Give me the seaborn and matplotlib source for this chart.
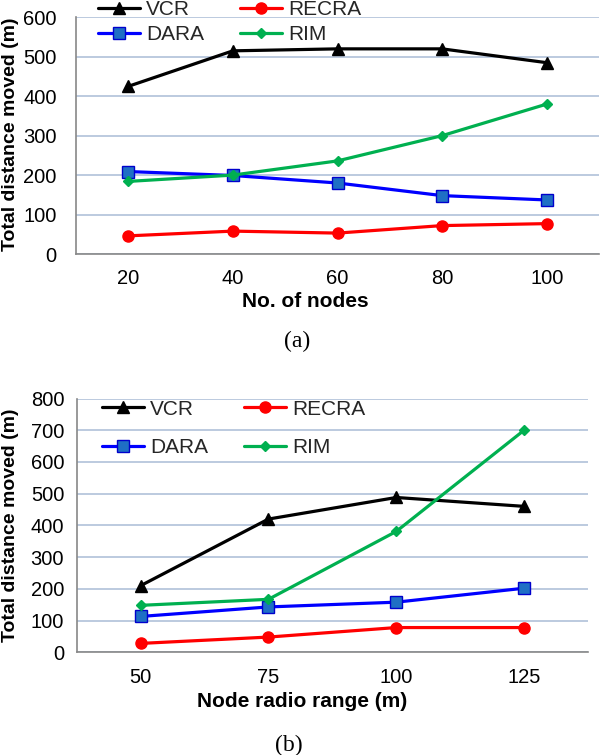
import matplotlib
matplotlib.use("Agg")
import matplotlib.pyplot as plt
import seaborn as sns
import pandas as pd

# ---- data ----
series = ["VCR", "RECRA", "DARA", "RIM"]
nodes = [20, 40, 60, 80, 100]
a_vcr = [425, 515, 520, 520, 485]
a_recra = [46, 58, 53, 72, 77]
a_dara = [209, 199, 180, 148, 137]
a_rim = [184, 200, 236, 300, 380]

ranges = [50, 75, 100, 125]
b_vcr = [210, 420, 488, 460]
b_recra = [28, 48, 78, 78]
b_dara = [113, 143, 158, 202]
b_rim = [148, 167, 381, 700]

a_yticks = [0, 100, 200, 300, 400, 500, 600]
b_yticks = [0, 100, 200, 300, 400, 500, 600, 700, 800]

sns.set_theme(style="white")
plt.rcParams['font.family'] = ['Liberation Sans', 'DejaVu Sans']

styles = {
    "VCR": dict(color="black", marker="^", markersize=8, mfc="black", mec="black"),
    "RECRA": dict(color="#FF0000", marker="o", markersize=8, mfc="#FF0000", mec="#FF0000"),
    "DARA": dict(color="#0000FF", marker="s", markersize=8, mfc="#1F6FC5", mec="#0000CC"),
    "RIM": dict(color="#00B050", marker="D", markersize=5, mfc="#00B050", mec="#00B050"),
}

fig = plt.figure(figsize=(6, 7.55), dpi=100)
W, H = 600, 755

def make_ax(left, right, top, bottom):
    return fig.add_axes([left / W, 1 - bottom / H, (right - left) / W, (bottom - top) / H])

ax_a = make_ax(76, 599, 17.3, 254)
ax_b = make_ax(76.7, 588, 398.5, 652.3)

def draw(ax, x, vals, xlim, ylim, yticks, xlabel, xlab_xy, ylab_xy, ypad, legend_xy, labelspacing):
    handles = {}
    for name, v in zip(series, vals):
        df = pd.DataFrame({"x": x, "y": v})
        st = styles[name]
        sns.lineplot(data=df, x="x", y="y", ax=ax, color=st["color"], linewidth=2.3,
                     marker=st["marker"], markersize=st["markersize"],
                     markerfacecolor=st["mfc"], markeredgecolor=st["mec"], markeredgewidth=1.0,
                     label=name, legend=False)
        handles[name] = ax.lines[-1]
    ax.set_xlim(*xlim)
    ax.set_ylim(*ylim)
    ax.set_xticks(x)
    ax.set_xticklabels([str(t) for t in x])
    ax.set_yticks(yticks)
    ax.grid(axis="y", color="#A9BCD6", linewidth=1.1)
    ax.set_axisbelow(True)
    for s in ["top", "right"]:
        ax.spines[s].set_visible(False)
    for s in ["left", "bottom"]:
        ax.spines[s].set_color("#888888")
        ax.spines[s].set_linewidth(1.2)
    ax.tick_params(axis="x", length=0, pad=11, labelsize=14.5, colors="black")
    ax.tick_params(axis="y", length=0, pad=ypad, labelsize=14.5, colors="black")
    ax.set_xlabel(xlabel, fontsize=15, fontweight="bold", color="black")
    ax.xaxis.label.set_va("center")
    ax.xaxis.set_label_coords(*xlab_xy)
    ax.set_ylabel("Total distance moved (m)", fontsize=14, fontweight="bold", color="black")
    ax.yaxis.label.set_va("center")
    ax.yaxis.set_label_coords(*ylab_xy)
    order = ["VCR", "DARA", "RECRA", "RIM"]
    fig.legend([handles[n] for n in order], order, loc="center left",
               bbox_to_anchor=legend_xy, bbox_transform=fig.transFigure,
               ncol=2, frameon=False, fontsize=15, borderpad=0, borderaxespad=0,
               handlelength=2.0, handletextpad=0.3, columnspacing=1.75,
               labelspacing=labelspacing)

draw(ax_a, nodes, [a_vcr, a_recra, a_dara, a_rim], (10, 110), (0, 600), a_yticks,
     "No. of nodes", (0.439, -0.1986), (-0.126, 0.507), 14,
     (98 / W, 1 - 22 / H), 0.30)
draw(ax_b, ranges, [b_vcr, b_recra, b_dara, b_rim], (37.5, 137.5), (0, 800), b_yticks,
     "Node radio range (m)", (0.4407, -0.1946), (-0.1304, 0.5016), 9,
     (102 / W, 1 - 428.3 / H), 0.92)

fig.text(297 / W, 1 - 341.7 / H, "(a)", family=["Liberation Serif", "DejaVu Serif"],
         fontsize=17, ha="center", va="center", color="black")
fig.text(289 / W, 1 - 745 / H, "(b)", family=["Liberation Serif", "DejaVu Serif"],
         fontsize=17, ha="center", va="center", color="black")

fig.savefig("out.png", dpi=100)
